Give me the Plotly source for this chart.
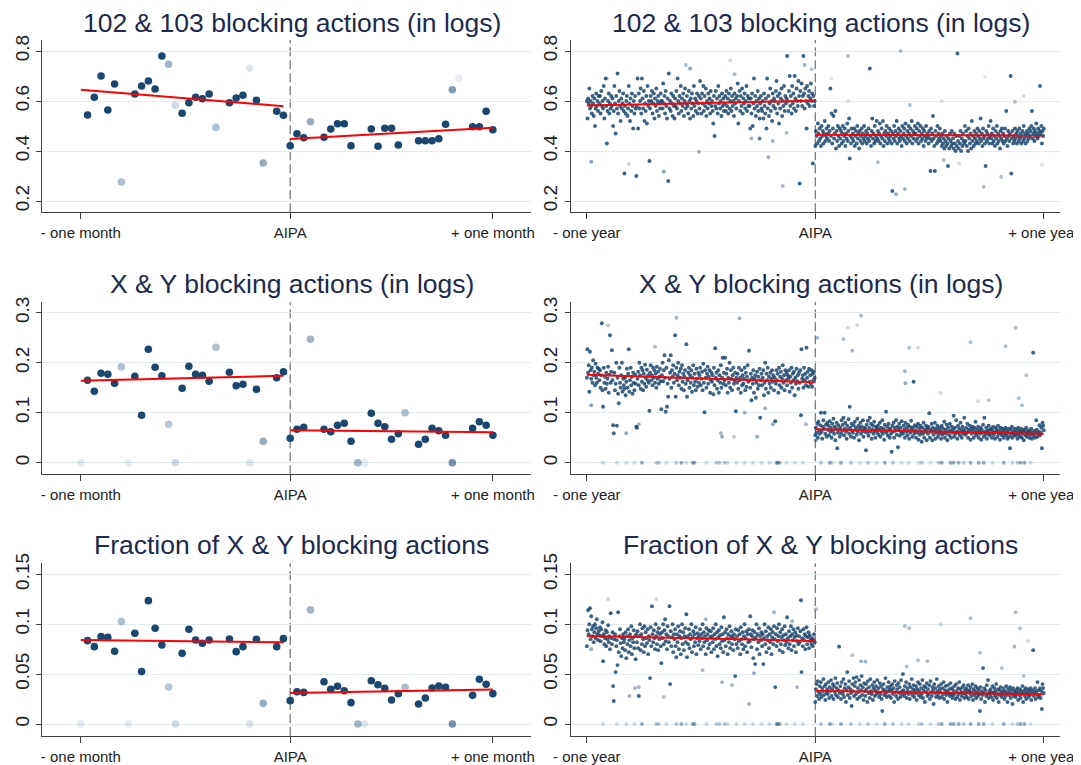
import plotly.graph_objects as go

# ---------------- DATA ----------------
titles = ["102 & 103 blocking actions (in logs)", "X & Y blocking actions (in logs)",
          "Fraction of X & Y blocking actions"]
month_ticks = [-31, 0, 30]
month_labels = ["- one month", "AIPA", "+ one month"]
year_ticks = [-365, 0, 365]
year_labels = ["- one year", "AIPA", "+ one year"]
y_ticks = [[0.2, 0.4, 0.6, 0.8], [0, 0.1, 0.2, 0.3], [0, 0.05, 0.1, 0.15]]
y_labels = [["0.2", "0.4", "0.6", "0.8"], ["0", "0.1", "0.2", "0.3"], ["0", "0.05", "0.1", "0.15"]]

# ---- left column: +/- one month (day, value, weight-alpha) ----
l1_pre_days = [-30, -29, -28, -27, -26, -25, -23, -22, -21, -20, -19, -18, -17, -16, -15, -14, -13, -12, -11, -9, -8, -7, -6, -5, -4, -2, -1]
l1_pre_vals = [.544, .615, .700, .564, .668, .276, .628, .660, .680, .648, .780, .747, .583, .551, .593, .615, .609, .628, .495, .593, .612, .623, .731, .603, .352, .559, .543]
l1_pre_alpha = [1, 1, 1, 1, 1, .35, 1, 1, 1, 1, 1, .4, .2, 1, 1, 1, 1, 1, .35, 1, 1, 1, .15, 1, .45, 1, 1]
l1_post_days = [0, 1, 2, 3, 5, 6, 7, 8, 9, 12, 13, 14, 15, 16, 19, 20, 21, 22, 23, 24, 25, 27, 28, 29, 30]
l1_post_vals = [.421, .469, .453, .517, .455, .488, .509, .509, .421, .488, .419, .491, .491, .424, .441, .441, .441, .449, .507, .645, .692, .497, .497, .559, .485]
l1_post_alpha = [1, 1, 1, .45, 1, 1, 1, 1, 1, 1, 1, 1, 1, 1, 1, 1, 1, 1, 1, .55, .1, 1, 1, 1, 1]

l2_pre_days = [-31, -30, -29, -28, -27, -26, -25, -24, -23, -22, -21, -20, -19, -18, -17, -16, -15, -14, -13, -12, -11, -9, -8, -7, -6, -5, -4, -2, -1]
l2_pre_vals = [0, .165, .143, .179, .177, .159, .192, 0, .173, .095, .227, .191, .174, .077, 0, .149, .193, .177, .175, .163, .231, .181, .154, .157, 0, .147, .043, .170, .182]
l2_pre_alpha = [.12, 1, 1, 1, 1, 1, .35, .1, 1, 1, 1, 1, 1, .3, .2, 1, 1, 1, 1, 1, .35, 1, 1, 1, .15, 1, .45, 1, 1]
l2_post_days = [0, 1, 2, 3, 5, 6, 7, 8, 9, 10, 11, 12, 13, 14, 15, 16, 17, 19, 20, 21, 22, 23, 24, 27, 28, 29, 30]
l2_post_vals = [.049, .067, .071, .247, .067, .062, .075, .079, .043, 0, 0, .099, .079, .072, .047, .058, .100, .037, .047, .069, .064, .055, 0, .069, .082, .075, .055]
l2_post_alpha = [1, 1, 1, .4, 1, 1, 1, 1, 1, .4, .12, 1, 1, 1, 1, 1, .35, 1, 1, 1, 1, 1, .6, 1, 1, 1, 1]

l3_pre_days = [-31, -30, -29, -28, -27, -26, -25, -24, -23, -22, -21, -20, -19, -18, -17, -16, -15, -14, -13, -12, -9, -8, -7, -6, -5, -4, -2, -1]
l3_pre_vals = [0, .0835, .0775, .0875, .0869, .0728, .1026, 0, .0909, .0525, .1236, .0959, .0792, .037, 0, .0708, .0949, .0842, .0809, .0842, .0852, .0725, .0775, 0, .0849, .0207, .0775, .0855]
l3_pre_alpha = [.12, 1, 1, 1, 1, 1, .35, .1, 1, 1, 1, 1, 1, .3, .2, 1, 1, 1, 1, 1, 1, 1, 1, .15, 1, .45, 1, 1]
l3_post_days = [0, 1, 2, 3, 5, 6, 7, 8, 9, 10, 11, 12, 13, 14, 15, 16, 17, 19, 20, 21, 22, 23, 24, 27, 28, 29, 30]
l3_post_vals = [.0234, .0324, .0317, .1143, .0424, .0347, .0378, .0334, .0214, 0, 0, .0434, .0394, .0357, .0241, .0304, .0368, .02, .0261, .0361, .0381, .0368, 0, .0287, .0448, .0398, .0304]
l3_post_alpha = [1, 1, 1, .4, 1, 1, 1, 1, 1, .4, .12, 1, 1, 1, 1, 1, .35, 1, 1, 1, 1, 1, .6, 1, 1, 1, 1]

# fitted lines (endpoints)
l_fit_pre_x = [-31, -1]
l_fit_post_x = [0, 30]
l1_fit_pre = [.645, .579]
l1_fit_post = [.448, .493]
l2_fit_pre = [.164, .174]
l2_fit_post = [.065, .061]
l3_fit_pre = [.0842, .0819]
l3_fit_post = [.0311, .0347]

# ---- right column: +/- one year, one value per day ----
r_pre_start = -365
r_post_start = 0
r1_pre = [
    .60, .53, .61, .59, .65, .57, .60, .58, .55, .62, .59, .54, .61, .50, .57, .63, .58, .60, .56, .62,
    .59, .62, .55, .64, .58, .60, .57, .66, .53, .61, .69, .58, .43, .56, .60, .63, .55, .59, .57, .62,
    .58, .61, .50, .56, .66, .59, .47, .62, .57, .71, .55, .60, .64, .58, .52, .61, .57, .59, .63, .56,
    .31, .58, .55, .60, .62, .54, .57, .66, .59, .52, .61, .56, .63, .58, .49, .60, .55, .62, .57, .30,
    .58, .69, .49, .63, .57, .60, .65, .55, .69, .61, .57, .64, .52, .59, .56, .62, .51, .66, .58, .60,
    .36, .57, .62, .60, .64, .55, .59, .63, .53, .61, .58, .65, .56, .60, .62, .54, .59, .57, .63, .60,
    .60, .57, .67, .59, .62, .55, .64, .58, .53, .61, .28, .71, .57, .60, .56, .63, .59, .54, .62, .58,
    .53, .61, .58, .64, .57, .69, .60, .55, .62, .59, .66, .56, .61, .58, .63, .54, .60, .65, .57, .59,
    .62, .58, .55, .64, .60, .53, .61, .57, .63, .59, .54, .66, .58, .61, .56, .60, .63, .55, .59, .62,
    .57, .68, .61, .55, .63, .59, .66, .56, .62, .58, .65, .54, .60, .57, .63, .59, .61, .55, .64, .58,
    .60, .56, .51, .62, .46, .58, .64, .57, .61, .55, .66, .59, .62, .57, .60, .54, .63, .58, .61, .56,
    .59, .62, .56, .64, .58, .61, .55, .63, .57, .60, .65, .56, .62, .58, .60, .54, .63, .59, .61, .57,
    .62, .67, .51, .60, .64, .56, .62, .58, .65, .55, .61, .59, .63, .57, .60, .66, .56, .62, .58, .61,
    .58, .49, .61, .55, .63, .50, .59, .69, .57, .62, .54, .60, .58, .64, .56, .61, .53, .59, .62, .57,
    .56, .60, .53, .63, .58, .55, .61, .49, .69, .57, .62, .54, .59, .65, .56, .60, .52, .63, .58, .61,
    .60, .57, .64, .68, .55, .62, .59, .51, .63, .57, .61, .65, .54, .60, .58, .66, .56, .62, .59, .61,
    .78, .60, .56, .64, .70, .58, .62, .55, .66, .59, .63, .57, .70, .61, .56, .65, .60, .58, .68, .62,
    .27, .64, .60, .67, .58, .62, .78, .63, .57, .65, .60, .49, .66, .59, .62, .64, .58, .61, .67, .60,
    .63, .35, .62, .58, .60]
r1_post = [
    .42, .48, .46, .43, .51, .47, .44, .49, .45, .42, .50, .46, .48, .43, .47, .52, .44, .46, .49, .45,
    .47, .50, .44, .48, .65, .46, .55, .43, .49, .54, .45, .47, .56, .41, .48, .44, .50, .46, .42, .49,
    .45, .48, .43, .47, .50, .44, .46, .49, .42, .47, .45, .51, .44, .48, .53, .37, .46, .43, .49, .45,
    .47, .44, .49, .42, .46, .48, .43, .50, .45, .47, .41, .48, .44, .46, .49, .43, .47, .45, .50, .44,
    .46, .48, .43, .47, .45, .49, .44, .73, .46, .42, .48, .53, .45, .47, .43, .50, .44, .46, .52, .45,
    .48, .44, .47, .51, .43, .46, .49, .45, .52, .42, .47, .44, .48, .46, .50, .43, .47, .45, .49, .44,
    .46, .48, .43, .24, .47, .45, .50, .44, .48, .46, .52, .43, .47, .49, .45, .44, .48, .46, .42, .50,
    .45, .47, .49, .44, .51, .46, .43, .48, .45, .50, .47, .44, .49, .46, .52, .43, .48, .45, .47, .50,
    .47, .44, .49, .45, .51, .43, .48, .46, .50, .44, .47, .45, .49, .42, .48, .46, .44, .50, .45, .47,
    .46, .43, .48, .45, .32, .49, .44, .47, .54, .45, .42, .32, .48, .46, .43, .50, .44, .47, .45, .49,
    .44, .46, .42, .47, .43, .45, .41, .48, .44, .42, .46, .43, .34, .45, .41, .47, .44, .42, .48, .43,
    .45, .41, .47, .43, .40, .46, .42, .79, .44, .41, .46, .43, .48, .40, .45, .42, .47, .44, .43, .50,
    .44, .48, .42, .46, .40, .49, .45, .43, .47, .41, .52, .44, .46, .42, .48, .45, .43, .47, .44, .49,
    .46, .43, .48, .45, .53, .44, .47, .42, .49, .45, .46, .43, .34, .48, .44, .47, .45, .50, .43, .46,
    .52, .45, .47, .43, .49, .44, .46, .42, .48, .45, .50, .43, .47, .44, .46, .41, .48, .45, .49, .44,
    .47, .43, .46, .49, .44, .56, .45, .42, .48, .46, .44, .47, .70, .31, .45, .48, .43, .46, .44, .49,
    .45, .47, .43, .48, .46, .44, .49, .45, .47, .43, .46, .48, .44, .50, .45, .47, .43, .46, .48, .44,
    .47, .45, .49, .46, .48, .50, .56, .45, .47, .49, .44, .48, .46, .51, .47, .45, .49, .46, .48, .66,
    .47, .50, .43, .48, .46, .49]

r2_pre = [
    .17, .227, .18, .195, .142, .222, .185, .168, .19, .16, .205, .175, .182, .155, .198, .17, .16, .19, .178, .188,
    .165, .185, .15, .175, .279, .145, .112, .19, .16, .172, .148, .18, .158, .168, .192, .14, .176, .255, .16, .182,
    .225, .165, .075, .059, .18, .145, .158, .2, .074, .17, .138, .119, .19, .16, .15, .175, .2, .142, .168, .155,
    .148, .17, .135, .162, .188, .15, .178, .227, .142, .165, .19, .155, .172, .138, .18, .16, .145, .176, .158, .072,
    .07, .168, .182, .155, .2, .175, .148, .19, .162, .185, .145, .178, .158, .196, .17, .152, .186, .165, .175, .16,
    .104, .18, .195, .165, .175, .155, .19, .17, .185, .16, .178, .15, .192, .168, .182, .158, .172, .188, .163, .107,
    .175, .2, .163, .185, .215, .17, .102, .19, .112, .158, .132, .205, .168, .18, .215, .15, .185, .172, .195, .16,
    .178, .255, .132, .19, .165, .175, .2, .155, .182, .17, .188, .148, .195, .162, .178, .145, .172, .185, .158, .237,
    .132, .165, .18, .19, .15, .175, .16, .185, .142, .17, .195, .155, .178, .162, .145, .188, .168, .152, .18, .16,
    .175, .19, .155, .168, .182, .145, .198, .16, .101, .185, .17, .15, .178, .192, .158, .172, .185, .14, .165, .18,
    .162, .175, .137, .19, .155, .229, .17, .18, .148, .165, .185, .14, .175, .16, .195, .15, .17, .21, .158, .18,
    .165, .21, .155, .178, .188, .14, .17, .16, .2, .15, .185, .168, .145, .175, .19, .158, .165, .18, .103, .17,
    .16, .178, .148, .19, .165, .17, .14, .185, .155, .175, .158, .168, .19, .145, .18, .152, .172, .195, .162, .224,
    .165, .15, .178, .125, .17, .158, .185, .14, .168, .175, .13, .16, .182, .148, .172, .155, .188, .09, .165, .178,
    .155, .17, .185, .135, .16, .2, .148, .178, .165, .19, .14, .172, .158, .18, .15, .168, .185, .162, .175, .145,
    .17, .083, .158, .185, .165, .178, .14, .19, .155, .172, .182, .15, .168, .195, .16, .175, .145, .185, .165, .18,
    .155, .175, .168, .185, .142, .172, .16, .19, .15, .178, .165, .182, .135, .17, .158, .188, .163, .175, .148, .18,
    .16, .185, .095, .227, .168, .175, .15, .19, .165, .178, .155, .23, .17, .182, .152, .188, .162, .175, .158, .185,
    .152, .178, .165, .182, .17]
r2_post = [
    .055, .07, .06, .078, .05, .082, .065, .058, .075, .1, .062, .048, .072, .085, .068, .1, .058, .076, .052, .08,
    .066, .074, .055, .083, .062, .07, .05, .078, .064, .088, .058, .072, .045, .068, .08, .029, .06, .075, .066, .052,
    .07, .058, .085, .064, .076, .09, .055, .068, .08, .062, .048, .074, .066, .087, .058, .112, .07, .052, .078, .064,
    .06, .075, .05, .082, .066, .07, .056, .088, .062, .074, .045, .068, .08, .058, .072, .064, .085, .052, .07, .062,
    .068, .025, .076, .06, .084, .054, .07, .09, .062, .078, .048, .066, .074, .058, .082, .064, .05, .072, .068, .06,
    .074, .056, .066, .08, .052, .07, .062, .085, .058, .068, .046, .076, .064, .102, .06, .072, .054, .078, .066, .05,
    .068, .058, .022, .074, .062, .08, .05, .07, .064, .085, .056, .072, .031, .066, .078, .054, .07, .06, .083, .062,
    .058, .074, .066, .05, .08, .062, .07, .055, .076, .064, .048, .072, .06, .084, .066, .052, .07, .162, .058, .075,
    .064, .05, .072, .06, .078, .046, .068, .056, .074, .062, .042, .07, .058, .08, .05, .066, .062, .074, .045, .068,
    .058, .072, .099, .05, .066, .062, .078, .045, .07, .056, .064, .08, .048, .068, .06, .074, .052, .066, .058, .07,
    .062, .048, .074, .056, .068, .06, .082, .05, .066, .058, .076, .045, .07, .062, .055, .078, .064, .05, .072, .06,
    .066, .094, .052, .07, .058, .085, .062, .048, .074, .06, .068, .055, .08, .064, .05, .072, .058, .066, .09, .062,
    .056, .07, .06, .078, .05, .066, .062, .074, .046, .068, .058, .072, .064, .05, .07, .06, .082, .055, .066, .06,
    .072, .05, .064, .058, .07, .046, .066, .06, .076, .052, .09, .062, .056, .07, .048, .064, .06, .074, .055, .066,
    .058, .068, .05, .064, .072, .056, .06, .048, .07, .062, .066, .052, .074, .058, .064, .046, .07, .06, .055, .068,
    .062, .05, .066, .058, .07, .055, .064, .048, .06, .068, .052, .029, .066, .058, .072, .05, .062, .056, .068, .06,
    .054, .066, .06, .048, .07, .056, .064, .052, .062, .068, .05, .058, .064, .045, .066, .06, .055, .07, .052, .062,
    .058, .065, .05, .062, .056, .068, .048, .06, .22, .054, .064, .05, .06, .085, .066, .052, .058, .062, .075, .055,
    .06, .07, .029, .08, .074, .065]

r3_pre = [
    .078, .094, .114, .09, .1, .116, .085, .108, .095, .088, .098, .082, .092, .1, .086, .096, .105, .09, .084, .093,
    .089, .097, .083, .095, .088, .102, .063, .09, .08, .086, .094, .078, .092, .085, .099, .082, .088, .075, .111, .086,
    .08, .092, .038, .023, .085, .09, .052, .078, .084, .059, .112, .072, .088, .095, .081, .068, .086, .076, .09, .082,
    .085, .074, .092, .066, .088, .08, .095, .072, .084, .09, .078, .098, .07, .086, .082, .094, .076, .088, .065, .09,
    .082, .093, .076, .028, .088, .1, .074, .09, .08, .096, .085, .072, .098, .078, .092, .086, .081, .095, .07, .088,
    .084, .046, .097, .078, .118, .09, .082, .094, .086, .075, .1, .088, .08, .092, .074, .096, .085, .09, .078, .061,
    .092, .086, .1, .08, .094, .105, .083, .09, .075, .098, .088, .082, .118, .04, .093, .078, .087, .1, .072, .09,
    .085, .095, .078, .067, .09, .082, .098, .075, .088, .093, .07, .086, .1, .08, .092, .074, .088, .096, .082, .11,
    .067, .088, .08, .095, .076, .09, .085, .1, .072, .087, .093, .078, .09, .082, .097, .07, .086, .091, .079, .088,
    .083, .095, .075, .09, .086, .1, .078, .092, .082, .088, .07, .096, .084, .09, .076, .094, .08, .087, .093, .072,
    .088, .082, .096, .075, .09, .085, .1, .078, .092, .068, .087, .094, .08, .089, .076, .097, .083, .09, .072, .107,
    .084, .092, .078, .095, .086, .07, .09, .082, .098, .076, .088, .093, .08, .087, .074, .09, .085, .048, .095, .08,
    .088, .076, .094, .083, .09, .07, .097, .085, .08, .092, .075, .088, .1, .078, .086, .093, .072, .09, .082, .095,
    .083, .108, .09, .077, .088, .094, .066, .085, .092, .06, .087, .1, .075, .09, .082, .096, .07, .088, .084, .092,
    .078, .09, .06, .086, .1, .08, .093, .072, .088, .084, .097, .076, .09, .082, .095, .07, .087, .092, .08, .098,
    .085, .037, .09, .078, .096, .083, .088, .1, .074, .092, .08, .087, .095, .072, .089, .084, .098, .079, .09, .082,
    .107, .086, .076, .093, .08, .088, .098, .074, .09, .084, .095, .078, .087, .092, .072, .089, .083, .096, .08, .088,
    .082, .093, .124, .052, .086, .078, .095, .084, .09, .075, .088, .097, .08, .087, .092, .076, .089, .083, .085, .08,
    .086, .078, .084, .09, .082]
r3_post = [
    .022, .035, .04, .028, .043, .032, .025, .038, .03, .042, .027, .036, .033, .045, .029, .038, .024, .04, .031, .035,
    .03, .042, .026, .037, .033, .044, .028, .035, .04, .025, .038, .032, .046, .029, .036, .041, .027, .034, .0775, .031,
    .038, .025, .042, .033, .03, .045, .027, .036, .04, .022, .034, .052, .029, .037, .043, .026, .035, .031, .018, .04,
    .033, .046, .028, .038, .042, .03, .047, .025, .036, .032, .044, .027, .039, .034, .048, .029, .037, .024, .041, .033,
    .028, .04, .035, .022, .043, .031, .037, .026, .045, .033, .03, .039, .024, .036, .042, .028, .034, .038, .03, .044,
    .032, .036, .027, .041, .03, .038, .025, .013, .035, .04, .029, .034, .046, .031, .027, .037, .033, .042, .028, .035,
    .038, .026, .034, .04, .03, .036, .022, .043, .032, .028, .039, .035, .025, .041, .031, .037, .027, .044, .033, .03,
    .05, .034, .028, .038, .031, .042, .026, .036, .033, .03, .04, .025, .037, .032, .045, .029, .035, .039, .027, .034,
    .031, .038, .024, .035, .042, .029, .033, .04, .027, .036, .03, .044, .026, .034, .038, .022, .037, .032, .041, .028,
    .035, .03, .039, .025, .043, .032, .028, .037, .034, .02, .04, .031, .036, .027, .045, .033, .029, .038, .026, .035,
    .032, .04, .027, .036, .03, .042, .025, .034, .038, .029, .033, .022, .039, .031, .035, .028, .041, .03, .036, .026,
    .034, .029, .038, .031, .025, .04, .033, .027, .036, .03, .042, .024, .035, .032, .028, .037, .031, .039, .026, .034,
    .03, .036, .027, .033, .039, .025, .034, .031, .037, .028, .032, .04, .024, .035, .029, .033, .038, .026, .031, .036,
    .028, .034, .03, .013, .037, .025, .033, .029, .056, .031, .036, .022, .034, .028, .039, .03, .044, .026, .033, .03,
    .035, .027, .032, .038, .024, .031, .036, .028, .033, .04, .026, .03, .035, .022, .034, .029, .037, .031, .027, .033,
    .03, .036, .025, .033, .028, .038, .031, .022, .035, .029, .032, .037, .026, .034, .03, .02, .036, .028, .033, .031,
    .027, .034, .03, .036, .024, .032, .029, .035, .026, .033, .03, .038, .022, .031, .034, .028, .036, .025, .032, .03,
    .035, .027, .033, .029, .036, .024, .031, .034, .074, .028, .032, .036, .025, .033, .03, .042, .027, .034, .029, .036,
    .026, .033, .015, .04, .036, .031]

# faint (low-weight) days: (day, value, alpha)
r1_light = [(-358, .357, .5), (-333, .69, .3), (-298, .348, .25), (-242, .317, .5), (-207, .744, .35),
            (-200, .73, .5), (-186, .397, .4), (-136, .763, .2), (-129, .707, .35), (-102, .45, .4),
            (-89, .45, .7), (-75, .375, .4), (-68, .44, .4), (-52, .26, .4), (-46, .473, .35),
            (-17, .744, .4), (-6, .727, .3),
            (26, .69, .15), (52, .78, .35), (53, .60, .15), (100, .355, .35), (129, .227, .45),
            (136, .80, .35), (143, .248, .4), (151, .584, .35), (202, .60, .15), (205, .364, .35),
            (230, .35, .2), (269, .257, .35), (271, .696, .15), (297, .297, .35), (319, .597, .35),
            (333, .62, .2), (362, .345, .15)]
r2_light = [(-358, .115, .5), (-331, .275, .3), (-302, .059, .45), (-282, .077, .4), (-256, .232, .35),
            (-222, .29, .4), (-151, .059, .4), (-149, .052, .45), (-130, .052, .3), (-121, .289, .4),
            (-113, .10, .4), (-93, .052, .45), (-80, .109, .4), (-68, .077, .45), (-15, .077, .4),
            (1, .045, .5), (3, .25, .4), (45, .247, .35), (52, .27, .2), (59, .224, .4), (67, .275, .2),
            (73, .294, .4), (143, .183, .4), (144, .159, .45), (150, .23, .35), (164, .23, .2),
            (200, .14, .2), (248, .241, .35), (260, .123, .2), (277, .125, .3), (304, .233, .35),
            (320, .27, .35), (325, .129, .35), (330, .115, .35), (337, .175, .3)]
r3_light = [(-358, .075, .45), (-331, .125, .2), (-297, .028, .4), (-288, .036, .4), (-282, .037, .4),
            (-254, .125, .2), (-242, .027, .35), (-180, .054, .4), (-175, .105, .4), (-149, .042, .4),
            (-133, .039, .4), (-106, .02, .4), (-98, .051, .45), (-66, .112, .4), (-37, .103, .4),
            (-29, .037, .4),
            (1, .115, .4), (59, .069, .35), (73, .063, .4), (80, .0625, .4), (143, .098, .35),
            (146, .0575, .35), (150, .096, .35), (164, .064, .35), (179, .063, .35), (200, .10, .2),
            (248, .106, .35), (263, .0715, .35), (298, .056, .35), (318, .0775, .4), (320, .112, .35),
            (327, .096, .35), (333, .048, .35), (340, .083, .2)]
# days with zero X & Y actions (day, alpha)
zero_days = [(-339, .2), (-317, .2), (-302, .2), (-289, .2), (-277, .45), (-254, .3), (-250, .3),
             (-238, .2), (-222, .3), (-214, .45), (-206, .2), (-196, .45), (-193, .45), (-174, .2),
             (-158, .3), (-153, .3), (-145, .3), (-140, .2), (-126, .2), (-113, .2), (-100, .2),
             (-86, .2), (-73, .2), (-62, .45), (-60, .45), (-57, .45), (-46, .2), (-33, .2), (-20, .2),
             (9, .3), (23, .45), (27, .2), (41, .45), (57, .3), (71, .2), (84, .3), (98, .2), (111, .45),
             (124, .3), (138, .2), (149, .2), (165, .2), (170, .3), (184, .2), (197, .3), (202, .45),
             (216, .45), (221, .45), (229, .45), (237, .3), (248, .45), (261, .45), (269, .45), (283, .2),
             (301, .45), (315, .2), (323, .3), (328, .45), (334, .45), (344, .2)]

r_fit_pre_x = [-365, -1]
r_fit_post_x = [0, 365]
r1_fit_pre = [.582, .601]
r1_fit_post = [.465, .462]
r2_fit_pre = [.176, .161]
r2_fit_post = [.067, .058]
r3_fit_pre = [.0882, .0832]
r3_fit_post = [.0334, .0297]

# ---------------- STYLE / LAYOUT ----------------
W, H = 1081, 765
OFF = 8  # the page body margin shifts the figure by 8 px
NAVY = "rgb(26,71,111)"
FONT = "Arial, Liberation Sans, sans-serif"
TITLE_COLOR = "#1c2a4d"
AX_COLOR = "#404040"
GRID_COLOR = "#e2ebee"

col_px = [(42.3, 530.7), (571.0, 1060.0)]
row_px = [(40.0, 212.3), (301.7, 474.3), (563.3, 736.0)]
title_y_px = [23.0, 283.5, 545.0]
x_ranges = [[-36.7, 35.6], [-390.3, 390.9]]
y_ranges = [[0.1548, 0.844], [-0.0232, 0.322], [-0.012, 0.161]]

fig = go.Figure()


def axn(r, c):
    return 2 * r + c + 1


def ax_names(n):
    return ("x" if n == 1 else f"x{n}"), ("y" if n == 1 else f"y{n}")


def add_markers(n, xs, ys, alphas, size):
    xa, ya = ax_names(n)
    fig.add_trace(go.Scatter(x=xs, y=ys, mode="markers", xaxis=xa, yaxis=ya, hoverinfo="skip",
                             marker=dict(color=NAVY, size=size, opacity=alphas, line=dict(width=0))))


def add_fit(n, xs, ys):
    xa, ya = ax_names(n)
    fig.add_trace(go.Scatter(x=xs, y=ys, mode="lines", xaxis=xa, yaxis=ya, hoverinfo="skip",
                             line=dict(color="#ff0000", width=2)))


# left column
left_sets = [
    (l1_pre_days, l1_pre_vals, l1_pre_alpha, l1_post_days, l1_post_vals, l1_post_alpha, l1_fit_pre, l1_fit_post),
    (l2_pre_days, l2_pre_vals, l2_pre_alpha, l2_post_days, l2_post_vals, l2_post_alpha, l2_fit_pre, l2_fit_post),
    (l3_pre_days, l3_pre_vals, l3_pre_alpha, l3_post_days, l3_post_vals, l3_post_alpha, l3_fit_pre, l3_fit_post),
]
for r, (pd_, pv, pa, qd, qv, qa, fpre, fpost) in enumerate(left_sets):
    n = axn(r, 0)
    add_markers(n, pd_ + qd, pv + qv, pa + qa, 7.6)
    add_fit(n, l_fit_pre_x, fpre)
    add_fit(n, l_fit_post_x, fpost)

# right column
right_sets = [
    (r1_pre, r1_post, r1_light, False, r1_fit_pre, r1_fit_post),
    (r2_pre, r2_post, r2_light, True, r2_fit_pre, r2_fit_post),
    (r3_pre, r3_post, r3_light, True, r3_fit_pre, r3_fit_post),
]
for r, (pre, post, light, zeros, fpre, fpost) in enumerate(right_sets):
    n = axn(r, 1)
    if zeros:
        add_markers(n, [d for d, a in zero_days], [0] * len(zero_days), [a for d, a in zero_days], 3.9)
    add_markers(n, [d for d, v, a in light], [v for d, v, a in light], [a for d, v, a in light], 3.9)
    xs = list(range(r_pre_start, r_pre_start + len(pre))) + list(range(r_post_start, r_post_start + len(post)))
    add_markers(n, xs, pre + post, 0.85, 3.9)
    add_fit(n, r_fit_pre_x, fpre)
    add_fit(n, r_fit_post_x, fpost)

layout = dict(width=W, height=H, margin=dict(l=0, r=0, t=0, b=0, autoexpand=False), paper_bgcolor="white",
              plot_bgcolor="white", showlegend=False, font=dict(family=FONT, color="#222"))
annotations = []
shapes = []
for r in range(3):
    for c in range(2):
        n = axn(r, c)
        xa, ya = ax_names(n)
        x0, x1 = col_px[c][0] - OFF, col_px[c][1] - OFF
        top, bot = row_px[r][0] - OFF, row_px[r][1] - OFF
        xkey = "xaxis" if n == 1 else f"xaxis{n}"
        ykey = "yaxis" if n == 1 else f"yaxis{n}"
        layout[xkey] = dict(domain=[x0 / W, x1 / W], anchor=ya, range=x_ranges[c], automargin=False,
                            tickvals=month_ticks if c == 0 else year_ticks,
                            ticktext=month_labels if c == 0 else year_labels,
                            showline=True, linecolor=AX_COLOR, linewidth=1.2, ticks="outside",
                            ticklen=6, tickwidth=1.2, tickcolor=AX_COLOR, showgrid=False, zeroline=False,
                            tickfont=dict(size=15, color="#222", family=FONT), ticklabelstandoff=1,
                            fixedrange=True)
        layout[ykey] = dict(domain=[(H - bot) / H, (H - top) / H], anchor=xa, range=y_ranges[r],
                            automargin=False,
                            tickvals=y_ticks[r], ticktext=y_labels[r], tickangle=-90,
                            showline=True, linecolor=AX_COLOR, linewidth=1.2, ticks="outside",
                            ticklen=5, tickwidth=1.2, tickcolor=AX_COLOR, showgrid=True,
                            gridcolor=GRID_COLOR, gridwidth=1.3, zeroline=False,
                            tickfont=dict(size=19, color="#222", family=FONT), fixedrange=True)
        shapes.append(dict(type="line", xref=xa, yref=f"{ya} domain", x0=0, x1=0, y0=0, y1=1,
                           line=dict(color="#7a7a7a", width=1.3, dash="9px,4px"), layer="below"))
        annotations.append(dict(text=titles[r], xref="paper", yref="paper",
                                x=((x0 + x1) / 2 + 5) / W, y=(H - (title_y_px[r] - OFF)) / H,
                                xanchor="center", yanchor="middle", showarrow=False,
                                font=dict(size=26.5, color=TITLE_COLOR, family=FONT)))
layout["annotations"] = annotations
layout["shapes"] = shapes
fig.update_layout(**layout)
fig.write_html("out.html")
